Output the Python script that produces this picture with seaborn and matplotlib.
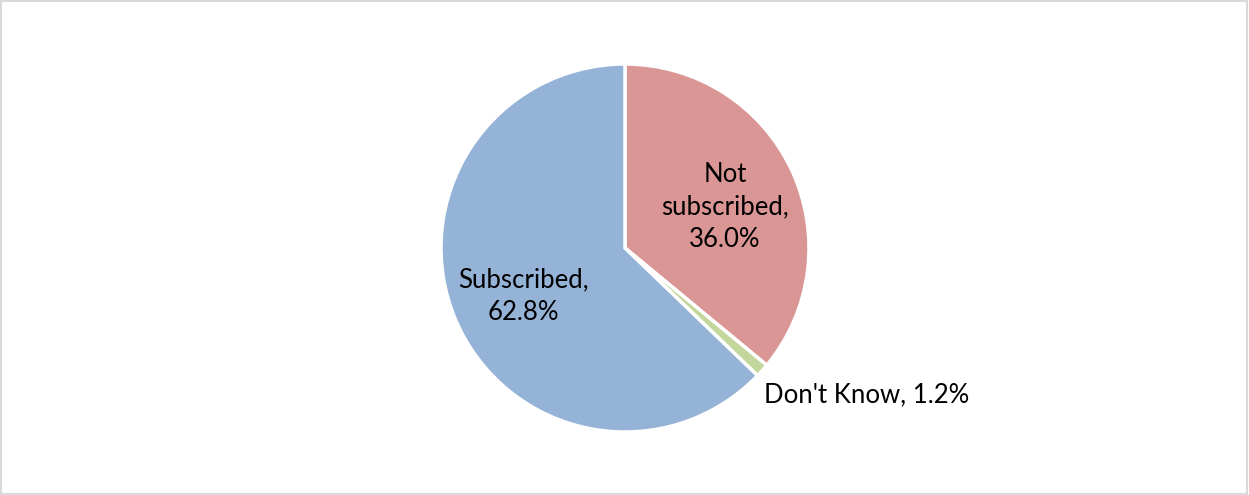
import matplotlib
matplotlib.use("Agg")
import matplotlib.pyplot as plt
import seaborn as sns

categories = ["Not subscribed", "Don't Know", "Subscribed"]
shares = [36.0, 1.2, 62.8]
label_text = ["Not\nsubscribed,\n36.0%", "Don't Know, 1.2%", "Subscribed,\n62.8%"]
colors = ["#DA9694", "#C3D69B", "#95B3D7"]

sns.set_theme(style="white")
plt.rcParams["font.family"] = ["Lato", "DejaVu Sans"]

W, H = 1249, 495
fig = plt.figure(figsize=(W / 100, H / 100), dpi=100)
ax = fig.add_axes([0, 0, 1, 1])

# pie of radius 1, centred; 184 px per data unit in both directions
scale = 184.0
cx, cy = 625.0, 248.0

wedges, _ = ax.pie(shares, colors=colors, startangle=90, counterclock=False,
                   radius=1.0, center=(0, 0), frame=True,
                   wedgeprops=dict(edgecolor="white", linewidth=2.5))
ax.set_xlim(-cx / scale, (W - cx) / scale)
ax.set_ylim(-(H - cy) / scale, cy / scale)
ax.set_aspect("auto")
ax.set_xticks([])
ax.set_yticks([])
for s in ax.spines.values():
    s.set_visible(False)

# label positions in pixel coordinates
pos_px = [(725, 207), (867, 395), (523, 296)]
for (px, py), txt in zip(pos_px, label_text):
    ax.text((px - cx) / scale, (cy - py) / scale, txt, ha="center", va="center",
            fontsize=18.5, color="black", linespacing=1.38)

# light grey frame round the chart area
fig.patches.append(plt.Rectangle((0.001, 0.002), 0.997, 0.995, transform=fig.transFigure,
                                 fill=False, edgecolor="#D9D9D9", linewidth=1.5))

fig.savefig("out.png", dpi=100, facecolor="white")
